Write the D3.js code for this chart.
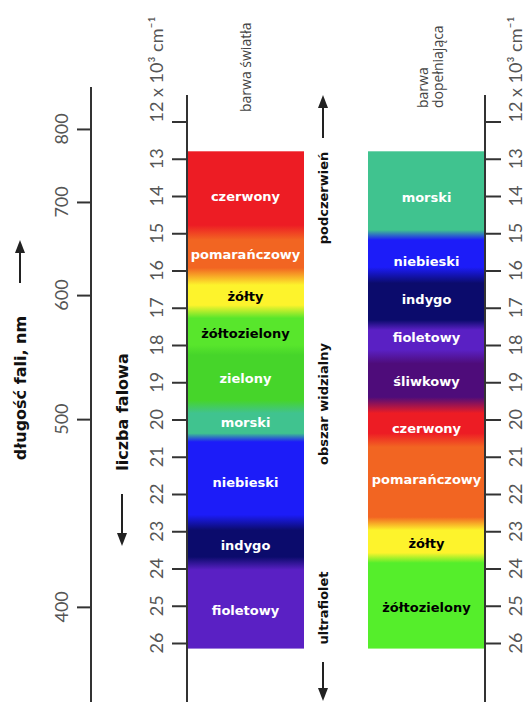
<!DOCTYPE html>
<html>
<head>
<meta charset="utf-8">
<script src="https://cdn.jsdelivr.net/npm/d3@7"></script>
<style>
  body { margin: 0; background: #fff; }
  svg { display: block; }
</style>
</head>
<body>
<svg id="chart" width="525" height="702"></svg>
<script>
// Wavenumber axis, in 10^3 cm^-1
const wavenumberTicks = [12, 13, 14, 15, 16, 17, 18, 19, 20, 21, 22, 23, 24, 25, 26];
// Wavelength labels (nm) and where they sit on the wavenumber axis
const wavelengthLabels = ["800", "700", "600", "500", "400"];
const wavelengthAt = [12.2, 14.16, 16.66, 19.99, 25.03];
// Extent of the coloured bands on the wavenumber axis
const bandRange = [12.8, 26.15];

// Colour of light: gradient stops (wavenumber) and colours
const lightStops  = [12.8, 14.78, 15.18, 15.93, 16.39, 16.93, 17.28, 18.0, 18.27, 19.48, 19.83, 20.37, 20.6, 22.56, 22.97, 23.69, 24.04, 26.15];
const lightColors = ["#ed1c24", "#ed1c24", "#f26522", "#f26522", "#fdf32c", "#fdf32c", "#58e62c", "#58e62c", "#46d52a", "#46d52a", "#40c38f", "#40c38f", "#1c1cf8", "#1c1cf8", "#0b0b6c", "#0b0b6c", "#5a20c4", "#5a20c4"];
const lightNames  = ["czerwony", "pomarańczowy", "żółty", "żółtozielony", "zielony", "morski", "niebieski", "indygo", "fioletowy"];
const lightNameAt = [14.0, 15.58, 16.71, 17.68, 18.89, 20.09, 21.70, 23.37, 25.14];
const lightNameInk = ["#fff", "#fff", "#000", "#000", "#fff", "#fff", "#fff", "#fff", "#fff"];

// Complementary colour: gradient stops and colours
const compStops  = [12.8, 14.91, 15.18, 15.91, 16.34, 17.33, 17.6, 18.13, 18.5, 19.4, 19.83, 20.37, 20.74, 22.62, 22.97, 23.58, 23.85, 26.15];
const compColors = ["#40c38f", "#40c38f", "#1c1cf8", "#1c1cf8", "#0b0b6c", "#0b0b6c", "#5a20c4", "#5a20c4", "#4e0c7a", "#4e0c7a", "#ed1c24", "#ed1c24", "#f26522", "#f26522", "#fdf32c", "#fdf32c", "#55ee2b", "#55ee2b"];
const compNames  = ["morski", "niebieski", "indygo", "fioletowy", "śliwkowy", "czerwony", "pomarańczowy", "żółty", "żółtozielony"];
const compNameAt = [14.05, 15.77, 16.79, 17.79, 18.97, 20.23, 21.62, 23.32, 25.06];
const compNameInk = ["#fff", "#fff", "#fff", "#fff", "#fff", "#fff", "#fff", "#000", "#000"];

const svg = d3.select("#chart");
const W = 525, H = 702;
const y = d3.scaleLinear().domain([12, 26]).range([121.5, 643]);

const axisInk = "#333";
const numFont = "Lato, 'Open Sans', sans-serif";
const boldFont = "'DejaVu Sans', Verdana, sans-serif";
const defs = svg.append("defs");

function gradient(id, stops, colors) {
  const g = defs.append("linearGradient")
    .attr("id", id)
    .attr("gradientUnits", "userSpaceOnUse")
    .attr("x1", 0).attr("x2", 0)
    .attr("y1", y(bandRange[0])).attr("y2", y(bandRange[1]));
  const span = bandRange[1] - bandRange[0];
  g.selectAll("stop").data(stops).join("stop")
    .attr("offset", d => (d - bandRange[0]) / span)
    .attr("stop-color", (d, i) => colors[i]);
}
gradient("lightGrad", lightStops, lightColors);
gradient("compGrad", compStops, compColors);

// Rotated text helper (reads bottom to top)
function vtext(x, yy, str, opts) {
  return svg.append("text")
    .attr("transform", `translate(${x},${yy}) rotate(-90)`)
    .attr("text-anchor", opts.anchor || "middle")
    .attr("dominant-baseline", "central")
    .attr("font-family", opts.font)
    .attr("font-size", opts.size)
    .attr("font-weight", opts.weight || "normal")
    .attr("fill", opts.fill || "#444")
    .text(str);
}

// Coloured bands
const leftX = [187, 304], rightX = [368, 485];
svg.append("rect")
  .attr("x", leftX[0]).attr("width", leftX[1] - leftX[0])
  .attr("y", y(bandRange[0])).attr("height", y(bandRange[1]) - y(bandRange[0]))
  .attr("fill", "url(#lightGrad)");
svg.append("rect")
  .attr("x", rightX[0]).attr("width", rightX[1] - rightX[0])
  .attr("y", y(bandRange[0])).attr("height", y(bandRange[1]) - y(bandRange[0]))
  .attr("fill", "url(#compGrad)");

// Band labels
const leftMid = (leftX[0] + leftX[1]) / 2, rightMid = (rightX[0] + rightX[1]) / 2;
svg.append("g").selectAll("text").data(lightNames).join("text")
  .attr("x", leftMid).attr("y", (d, i) => y(lightNameAt[i]))
  .attr("text-anchor", "middle").attr("dominant-baseline", "central")
  .attr("font-family", boldFont).attr("font-size", 13).attr("font-weight", "bold")
  .attr("fill", (d, i) => lightNameInk[i])
  .text(d => d);
svg.append("g").selectAll("text").data(compNames).join("text")
  .attr("x", rightMid).attr("y", (d, i) => y(compNameAt[i]))
  .attr("text-anchor", "middle").attr("dominant-baseline", "central")
  .attr("font-family", boldFont).attr("font-size", 13).attr("font-weight", "bold")
  .attr("fill", (d, i) => compNameInk[i])
  .text(d => d);

// Wavelength axis
const axL = svg.append("g").attr("transform", "translate(91,0)")
  .call(d3.axisLeft(y).tickValues(wavelengthAt).tickSize(14).tickFormat(""));
axL.select(".domain").remove();
axL.selectAll("line").attr("stroke", axisInk).attr("stroke-width", 2);
svg.append("line").attr("x1", 91).attr("x2", 91).attr("y1", 87).attr("y2", H)
  .attr("stroke", axisInk).attr("stroke-width", 2);
wavelengthLabels.forEach((lab, i) => vtext(61, y(wavelengthAt[i]), lab, { font: numFont, size: 18, fill: "#555" }));

// Wavenumber axes (middle and right)
function wavenumberAxis(x, gen, labelX, size) {
  const g = svg.append("g").attr("transform", `translate(${x},0)`)
    .call(gen(y).tickValues(wavenumberTicks).tickSize(size).tickFormat(""));
  g.select(".domain").remove();
  g.selectAll("line").attr("stroke", axisInk).attr("stroke-width", 2);
  svg.append("line").attr("x1", x).attr("x2", x).attr("y1", 95).attr("y2", H)
    .attr("stroke", axisInk).attr("stroke-width", 2);
  wavenumberTicks.forEach(k => {
    if (k === wavenumberTicks[0]) {
      vtext(labelX, y(k) + 1, k + " x 10³ cm⁻¹", { font: numFont, size: 18, fill: "#555", anchor: "start" });
    } else {
      vtext(labelX, y(k), String(k), { font: numFont, size: 18, fill: "#555" });
    }
  });
}
wavenumberAxis(187, d3.axisLeft, 156, 15);
wavenumberAxis(485, d3.axisRight, 515, 16);

// Column headings
vtext(245, 112, "barwa światła", { font: "'Open Sans', sans-serif", size: 14, anchor: "start" });
vtext(422, 108, "barwa", { font: "'Open Sans', sans-serif", size: 14, anchor: "start" });
vtext(437, 108, "dopełniająca", { font: "'Open Sans', sans-serif", size: 14, anchor: "start" });

// Region labels between the bands
vtext(323, 198, "podczerwień", { font: boldFont, size: 13, weight: "bold", fill: "#111" });
vtext(323, 404, "obszar widzialny", { font: boldFont, size: 13, weight: "bold", fill: "#111" });
vtext(323, 608, "ultrafiolet", { font: boldFont, size: 13, weight: "bold", fill: "#111" });

// Axis titles
vtext(20, 388, "długość fali, nm", { font: boldFont, size: 16, weight: "bold", fill: "#111" });
vtext(122, 412, "liczba falowa", { font: boldFont, size: 16, weight: "bold", fill: "#111" });

// Direction arrows: shaft from y1 towards y2, head at y2
function arrow(x, y1, y2) {
  const dir = Math.sign(y2 - y1), len = 13, half = 5;
  svg.append("line").attr("x1", x).attr("x2", x).attr("y1", y1).attr("y2", y2 - dir * len)
    .attr("stroke", "#222").attr("stroke-width", 2);
  svg.append("path")
    .attr("d", `M${x - half},${y2 - dir * len} L${x},${y2} L${x + half},${y2 - dir * len} Z`)
    .attr("fill", "#222");
}
arrow(20, 283, 240);
arrow(122, 494, 546);
arrow(323, 138, 95);
arrow(323, 662, 701);
</script>
</body>
</html>
